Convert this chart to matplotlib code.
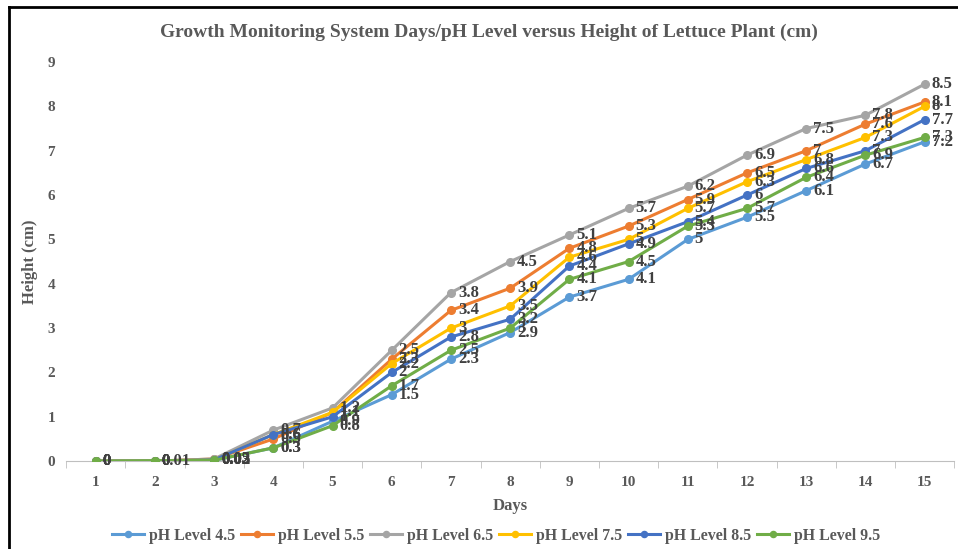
import matplotlib.pyplot as plt
from matplotlib.lines import Line2D

days = list(range(1, 16))

ph_45 = [0, 0, 0.02, 0.3, 0.9, 1.5, 2.3, 2.9, 3.7, 4.1, 5, 5.5, 6.1, 6.7, 7.2]
ph_55 = [0, 0, 0.05, 0.5, 1.1, 2.3, 3.4, 3.9, 4.8, 5.3, 5.9, 6.5, 7, 7.6, 8.1]
ph_65 = [0, 0, 0.05, 0.7, 1.2, 2.5, 3.8, 4.5, 5.1, 5.7, 6.2, 6.9, 7.5, 7.8, 8.5]
ph_75 = [0, 0, 0.03, 0.6, 1.1, 2.2, 3, 3.5, 4.6, 5, 5.7, 6.3, 6.8, 7.3, 8]
ph_85 = [0, 0, 0.03, 0.6, 1, 2, 2.8, 3.2, 4.4, 4.9, 5.4, 6, 6.6, 7, 7.7]
ph_95 = [0, 0.01, 0.02, 0.3, 0.8, 1.7, 2.5, 3, 4.1, 4.5, 5.3, 5.7, 6.4, 6.9, 7.3]

series_names = ["pH Level 4.5", "pH Level 5.5", "pH Level 6.5",
                "pH Level 7.5", "pH Level 8.5", "pH Level 9.5"]
series_values = [ph_45, ph_55, ph_65, ph_75, ph_85, ph_95]
colors = ["#5B9BD5", "#ED7D31", "#A5A5A5", "#FFC000", "#4472C4", "#70AD47"]

plt.rcParams["font.family"] = ["Liberation Serif", "DejaVu Serif"]
plt.rcParams["font.weight"] = "bold"

fig = plt.figure(figsize=(9.58, 5.49), dpi=100)
ax = fig.add_axes([0.069, 0.160, 0.927, 0.727])

for name, vals, col in zip(series_names, series_values, colors):
    ax.plot(days, vals, color=col, linewidth=2.2, marker="o",
            markersize=5.5, label=name, zorder=3)
    # data labels to the right of each point
    for d, v in zip(days, vals):
        ax.annotate(f"{v:g}", (d, v), xytext=(5, 0), textcoords="offset points",
                    ha="left", va="center", fontsize=12, fontweight="bold",
                    color="#404040", zorder=4)

ax.set_xlim(0.5, 15.5)
ax.set_ylim(0, 9)
ax.set_xticks(days)
ax.set_xticklabels([str(d) for d in days])
ax.set_xticks([d + 0.5 for d in range(0, 16)], minor=True)
ax.tick_params(axis="x", which="major", length=0, pad=11,
               labelsize=11, labelcolor="#595959")
ax.tick_params(axis="x", which="minor", length=5, color="#BFBFBF", direction="out")
ax.tick_params(axis="y", length=0, pad=8, labelsize=11, labelcolor="#595959")
ax.set_yticks(range(0, 10))

for s in ["top", "right", "left"]:
    ax.spines[s].set_visible(False)
ax.spines["bottom"].set_color("#BFBFBF")

ax.set_xlabel("Days", fontsize=12, fontweight="bold", color="#595959", labelpad=6)
ax.set_ylabel("Height (cm)", fontsize=12, fontweight="bold", color="#595959", labelpad=7)

fig.suptitle("Growth Monitoring System Days/pH Level versus Height of Lettuce Plant (cm)",
             x=0.51, y=0.957, fontsize=14, fontweight="bold", color="#595959")

fig.legend(loc="lower center", bbox_to_anchor=(0.518, -0.016), ncol=6, frameon=False,
           fontsize=11.4, handlelength=2.0, columnspacing=0.4, handletextpad=0.3,
           markerscale=0.8, labelcolor="#595959")

# black frame at left and top of the picture
fig.add_artist(Line2D([0.009, 0.009], [0, 0.988], transform=fig.transFigure,
                      color="black", linewidth=2))
fig.add_artist(Line2D([0.009, 1], [0.988, 0.988], transform=fig.transFigure,
                      color="black", linewidth=2))

fig.savefig("out.png", dpi=100)
